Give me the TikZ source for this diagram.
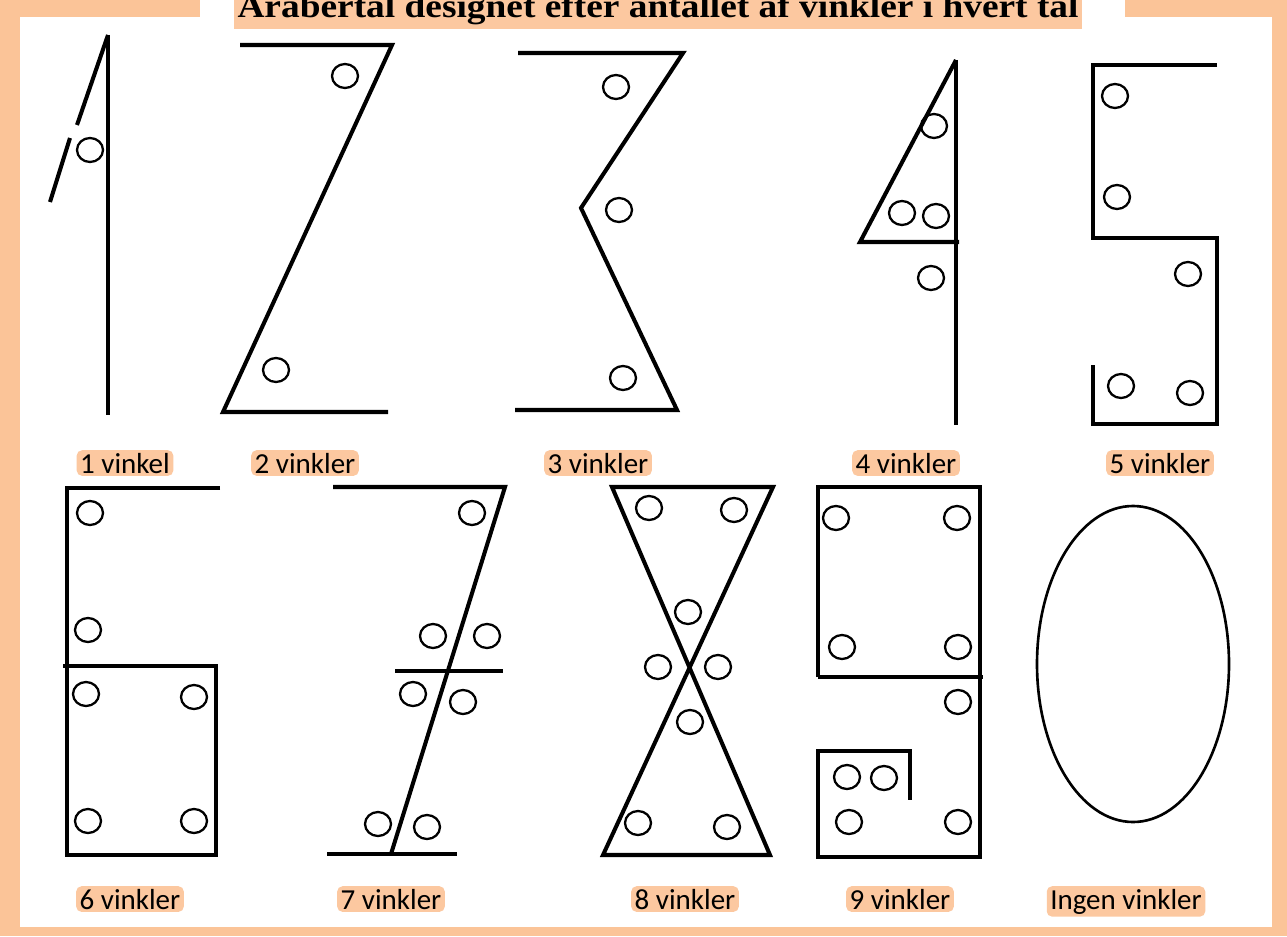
\documentclass[tikz,border=0pt]{standalone}
\usepackage{fontspec}
\setmainfont{Liberation Serif}
\newfontfamily\labelfont{Carlito}
\definecolor{glow}{RGB}{252, 200, 160}
\definecolor{frameorange}{RGB}{251, 196, 152}

\tikzset{
    digitline/.style={line width=2.3pt, line join=miter},
    hole/.style={line width=1.3pt},
    tag/.style={font=\labelfont\fontsize{16.5}{19}\selectfont, anchor=base, fill=glow,
                rounded corners=3pt, inner xsep=2pt, inner ysep=1.5pt},
}

\begin{document}
\begin{tikzpicture}[x=0.02cm, y=-0.02cm]
    \useasboundingbox (0,0) rectangle (1287,936);

    % Frame
    \fill[frameorange] (0,0) rectangle (1287,936);
    \fill[white] (20,17) rectangle (1272,927);
    \fill[white] (200,0) rectangle (1125,17);

    % Title
    \node[anchor=base, inner xsep=2pt, inner ysep=2pt, fill=glow, xscale=1.12,
          font=\bfseries\fontsize{19}{22}\selectfont] (Title) at (658,18)
        {Arabertal designet efter antallet af vinkler i hvert tal};

    % 1
    \draw[digitline] (108,35) -- (108,415);
    \draw[digitline] (108,35) -- (77,125);
    \draw[digitline] (70,138) -- (50,202);

    % 2
    \draw[digitline] (240,45) -- (392,45) -- (223,412) -- (388,412);

    % 3
    \draw[digitline] (518,53) -- (683,53) -- (581,208) -- (677,410) -- (515,410);

    % 4
    \draw[digitline] (956,60) -- (956,425);
    \draw[digitline] (956,60) -- (860,242) -- (959,242);

    % 5
    \draw[digitline] (1217,65) -- (1093,65) -- (1093,238) -- (1217,238) -- (1217,424) -- (1093,424) -- (1093,365);

    % 6
    \draw[digitline] (220,488) -- (67,488) -- (67,855) -- (216,855) -- (216,666) -- (63,666);

    % 7
    \draw[digitline] (333,487) -- (505,487) -- (391,854);
    \draw[digitline] (395,671) -- (503,671);
    \draw[digitline] (327,854) -- (457,854);

    % 8
    \draw[digitline] (603,855) -- (773,487) -- (612,487) -- (770,855) -- cycle;

    % 9
    \draw[digitline] (818,677) -- (818,487) -- (980,487) -- (980,857) -- (818,857) -- (818,751) -- (910,751) -- (910,800);
    \draw[digitline] (818,677) -- (983,677);

    % 0
    \draw[line width=1.5pt] (1133,664) circle [x radius=96, y radius=158];

    % Angle marks
    \foreach \p in {(90,150),
                    (345,76), (276,370),
                    (616,87), (619,210), (623,378),
                    (934,126), (902,213), (936,216), (931,278),
                    (1115,96), (1117,197), (1188,274), (1121,386), (1190,393),
                    (90,513), (88,630), (86,694), (194,697), (88,821), (194,821),
                    (472,513), (433,636), (487,636), (413,694), (463,702), (378,824), (427,827),
                    (649,508), (734,510), (688,612), (658,667), (718,667), (690,722), (638,823), (727,827),
                    (836,518), (957,518), (842,647), (958,647), (958,702), (847,777), (884,778), (849,822), (958,822)}
        \draw[hole] \p circle [x radius=13, y radius=12];

    % Labels
    \node[tag] (L1) at (125,473) {1 vinkel};
    \node[tag] (L2) at (305,473) {2 vinkler};
    \node[tag] (L3) at (598,473) {3 vinkler};
    \node[tag] (L4) at (906,473) {4 vinkler};
    \node[tag] (L5) at (1160,473) {5 vinkler};
    \node[tag] (L6) at (130,909) {6 vinkler};
    \node[tag] (L7) at (391,909) {7 vinkler};
    \node[tag] (L8) at (685,909) {8 vinkler};
    \node[tag] (L9) at (900,909) {9 vinkler};
    \node[tag] (L0) at (1126,909) {Ingen vinkler};
\end{tikzpicture}
\end{document}
